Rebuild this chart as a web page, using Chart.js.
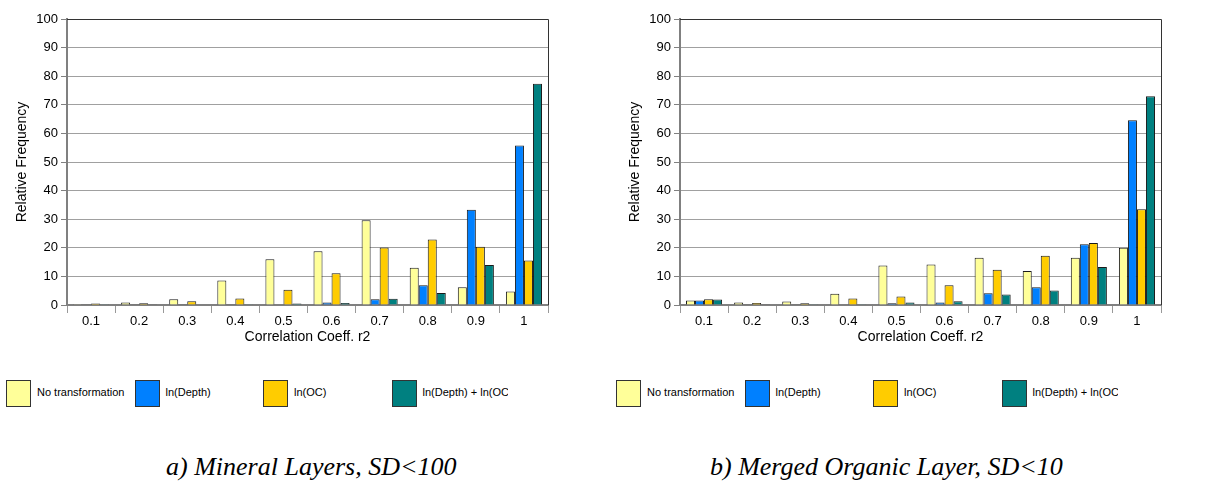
<!DOCTYPE html>
<html>
<head>
<meta charset="utf-8">
<script src="https://cdn.jsdelivr.net/npm/chart.js@4/dist/chart.umd.min.js"></script>
<style>
  html, body { margin: 0; padding: 0; background: #fff; width: 1206px; height: 494px; overflow: hidden; position: relative; }
  .cw { position: absolute; top: 0; width: 590px; height: 350px; }
  .legend { position: absolute; top: 380px; height: 28px; }
  .item { position: absolute; top: 0; height: 27px; width: 128px; overflow: hidden; white-space: nowrap; }
  .item.last { width: 116px; }
  .box { position: absolute; left: 0; top: 0; width: 23px; height: 25px; border: 1px solid #333; }
  .lab { position: absolute; left: 31px; top: 6px; font: 11px "Liberation Sans", Arial, sans-serif; color: #000; }
  .cap { position: absolute; top: 452px; font: italic 26px "Liberation Serif", "Times New Roman", serif; color: #000; white-space: nowrap; }
</style>
</head>
<body>
<div class="cw" style="left:0"><canvas id="c1"></canvas></div>
<div class="cw" style="left:613px"><canvas id="c2"></canvas></div>
<div class="legend" id="lg1" style="left:6px"></div>
<div class="legend" id="lg2" style="left:616px"></div>
<div class="cap" style="left:166px">a) Mineral Layers, SD&lt;100</div>
<div class="cap" style="left:710px">b) Merged Organic Layer, SD&lt;10</div>
<script>
const categories = ['0.1','0.2','0.3','0.4','0.5','0.6','0.7','0.8','0.9','1'];
const seriesNames = ['No transformation','ln(Depth)','ln(OC)','ln(Depth) + ln(OC)'];
const seriesColors = ['#FFFF99','#0080FF','#FFCC00','#008080'];

const mineralNoTrans = [0.3, 0.9, 2.0, 8.6, 16.0, 18.8, 29.6, 13.0, 6.2, 4.7];
const mineralLnDepth = [0.1, 0.1, 0.1, 0.1, 0.2, 0.9, 2.0, 6.9, 33.3, 55.8];
const mineralLnOC    = [0.5, 0.6, 1.3, 2.3, 5.3, 11.1, 20.1, 22.9, 20.4, 15.6];
const mineralBoth    = [0.3, 0.1, 0.2, 0.3, 0.5, 0.7, 2.2, 4.2, 14.0, 77.4];

const organicNoTrans = [1.6, 0.9, 1.2, 3.9, 13.8, 14.2, 16.5, 11.9, 16.5, 20.0];
const organicLnDepth = [1.6, 0.1, 0.1, 0.2, 0.6, 0.9, 4.1, 6.2, 21.2, 64.6];
const organicLnOC    = [2.0, 0.7, 0.6, 2.3, 3.0, 6.9, 12.3, 17.2, 21.7, 33.5];
const organicBoth    = [1.9, 0.1, 0.3, 0.3, 0.9, 1.3, 3.7, 5.1, 13.3, 73.0];

const yTitle = 'Relative Frequency';
const xTitle = 'Correlation Coeff. r2';

const FONT = '"Liberation Sans", Arial, sans-serif';

const framePlugin = {
  id: 'frame',
  beforeDatasetsDraw(chart) {
    const {ctx, chartArea: a} = chart;
    ctx.save();
    ctx.strokeStyle = '#333';
    ctx.lineWidth = 1;
    ctx.beginPath();
    ctx.moveTo(a.left, a.top + 0.5);
    ctx.lineTo(a.right + 0.5, a.top + 0.5);
    ctx.lineTo(a.right + 0.5, a.bottom);
    ctx.stroke();
    ctx.restore();
  }
};

function makeChart(id, values) {
  const datasets = values.map((v, i) => ({
    label: seriesNames[i],
    data: v,
    backgroundColor: seriesColors[i],
    borderColor: '#1a1a1a',
    borderWidth: 1,
    categoryPercentage: 0.75,
    barPercentage: 1.0
  }));
  return new Chart(document.getElementById(id), {
    type: 'bar',
    data: { labels: categories, datasets },
    plugins: [framePlugin],
    options: {
      responsive: true,
      maintainAspectRatio: false,
      animation: false,
      layout: { padding: { left: 0, right: 42, top: 19, bottom: 0 } },
      plugins: { legend: { display: false }, tooltip: { enabled: false } },
      scales: {
        x: {
          grid: { offset: true, drawOnChartArea: false, tickLength: 8, color: '#999', tickWidth: 1 },
          border: { color: '#808080', width: 2 },
          ticks: { color: '#000', font: { family: FONT, size: 13 }, padding: 1, maxRotation: 0 },
          title: { display: true, text: xTitle, color: '#000', font: { family: FONT, size: 14 }, padding: { top: 0, bottom: 4 } },
          afterFit(s) { s.height = 45; }
        },
        y: {
          min: 0, max: 100,
          ticks: {
            stepSize: 5, color: '#000', font: { family: FONT, size: 13 }, padding: 3,
            callback: (v) => (v % 10 === 0 ? v : '')
          },
          grid: {
            tickLength: 6,
            color: (c) => (c.tick && c.tick.value % 10 === 0 && c.tick.value !== 0 ? '#a0a0a0' : 'rgba(0,0,0,0)'),
            tickColor: '#808080'
          },
          border: { color: '#808080', width: 2 },
          title: { display: true, text: yTitle, color: '#000', font: { family: FONT, size: 14 }, padding: { top: 14, bottom: 0 } },
          afterFit(s) { s.width = 67; }
        }
      }
    }
  });
}

makeChart('c1', [mineralNoTrans, mineralLnDepth, mineralLnOC, mineralBoth]);
makeChart('c2', [organicNoTrans, organicLnDepth, organicLnOC, organicBoth]);

function makeLegend(id) {
  const el = document.getElementById(id);
  seriesNames.forEach((n, i) => {
    const it = document.createElement('div');
    it.className = 'item' + (i === seriesNames.length - 1 ? ' last' : '');
    it.style.left = (i * 128.5) + 'px';
    const b = document.createElement('div');
    b.className = 'box';
    b.style.background = seriesColors[i];
    const t = document.createElement('div');
    t.className = 'lab';
    t.textContent = n;
    it.appendChild(b); it.appendChild(t);
    el.appendChild(it);
  });
}
makeLegend('lg1');
makeLegend('lg2');
</script>
</body>
</html>
